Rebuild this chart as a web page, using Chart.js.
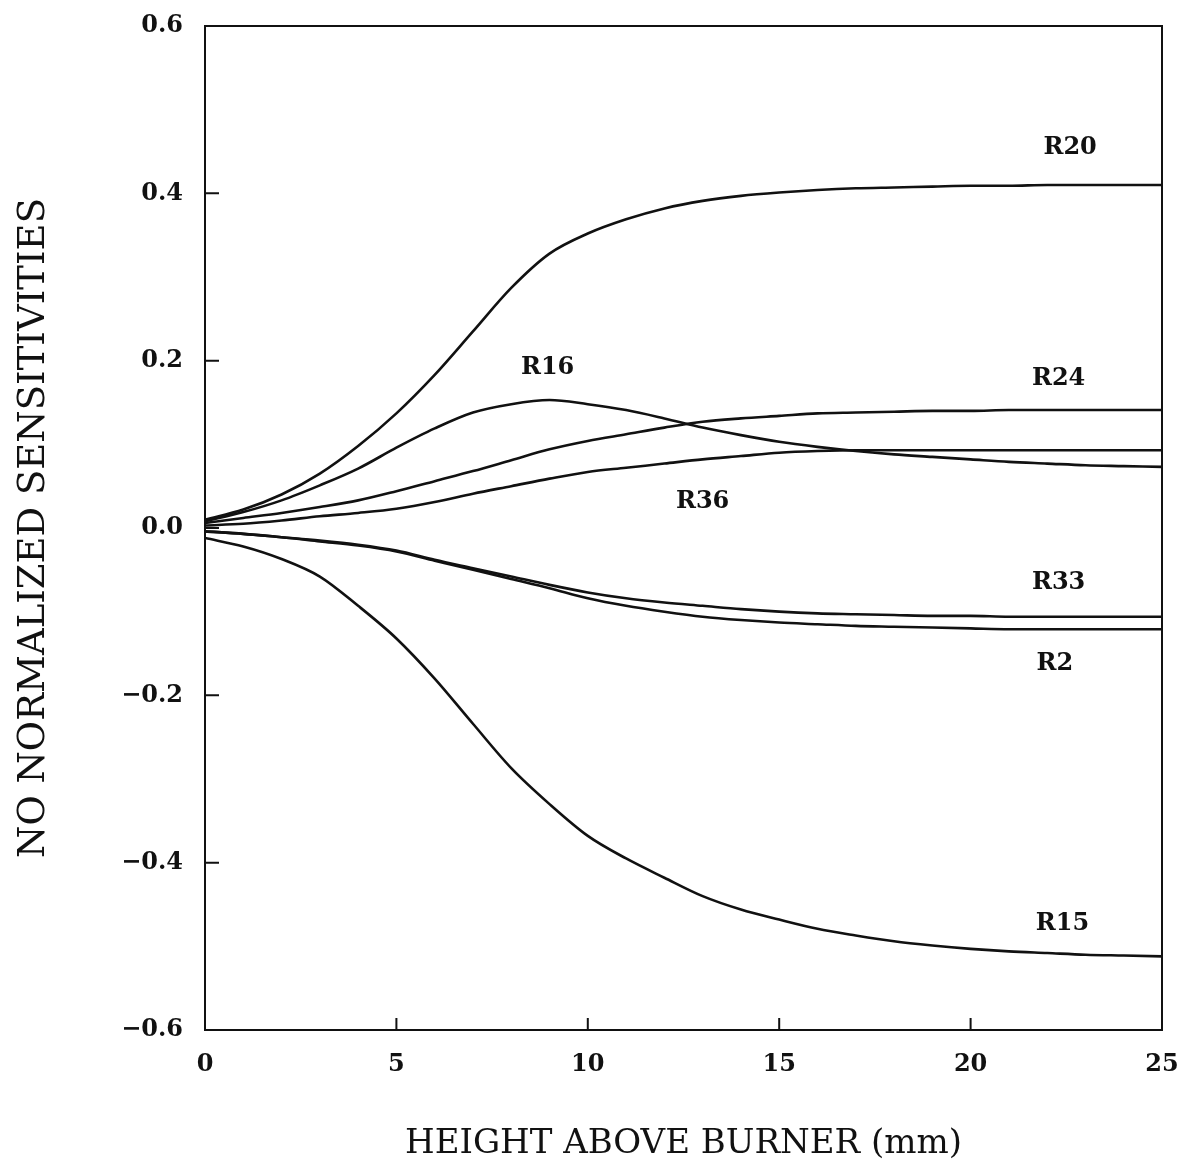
<!DOCTYPE html>
<html>
<head>
<meta charset="utf-8">
<title>NO normalized sensitivities</title>
<script src="https://cdn.jsdelivr.net/npm/chart.js@4.4.1/dist/chart.umd.min.js"></script>
<style>
  html, body { margin: 0; padding: 0; background: #fff; }
  #wrap { width: 1185px; height: 1175px; }
</style>
</head>
<body>
<div id="wrap"><canvas id="sens"></canvas></div>
<script>
// height above burner, mm
const heights = [0, 1, 2, 3, 4, 5, 6, 7, 8, 9, 10, 11, 12, 13, 14, 15, 16, 17, 18, 19, 20, 21, 22, 23, 24, 25];

// normalized NO sensitivity for each reaction
const r20 = [0.010, 0.022, 0.040, 0.065, 0.098, 0.137, 0.183, 0.235, 0.287, 0.328, 0.352, 0.369, 0.382, 0.391, 0.397, 0.401, 0.404, 0.406, 0.407, 0.408, 0.409, 0.409, 0.410, 0.410, 0.410, 0.410];
const r16 = [0.008, 0.019, 0.033, 0.051, 0.071, 0.096, 0.119, 0.138, 0.148, 0.153, 0.148, 0.141, 0.131, 0.120, 0.111, 0.103, 0.097, 0.092, 0.088, 0.085, 0.082, 0.079, 0.077, 0.075, 0.074, 0.073];
const r24 = [0.006, 0.012, 0.018, 0.025, 0.033, 0.044, 0.056, 0.068, 0.081, 0.094, 0.104, 0.112, 0.120, 0.127, 0.131, 0.134, 0.137, 0.138, 0.139, 0.140, 0.140, 0.141, 0.141, 0.141, 0.141, 0.141];
const r36 = [0.003, 0.005, 0.009, 0.014, 0.018, 0.023, 0.031, 0.041, 0.050, 0.059, 0.067, 0.072, 0.077, 0.082, 0.086, 0.090, 0.092, 0.093, 0.093, 0.093, 0.093, 0.093, 0.093, 0.093, 0.093, 0.093];
const r33 = [-0.004, -0.007, -0.011, -0.015, -0.020, -0.027, -0.038, -0.048, -0.058, -0.068, -0.077, -0.084, -0.089, -0.093, -0.097, -0.100, -0.102, -0.103, -0.104, -0.105, -0.105, -0.106, -0.106, -0.106, -0.106, -0.106];
const r2 = [-0.004, -0.007, -0.011, -0.016, -0.021, -0.028, -0.039, -0.050, -0.061, -0.072, -0.084, -0.093, -0.100, -0.106, -0.110, -0.113, -0.115, -0.117, -0.118, -0.119, -0.120, -0.121, -0.121, -0.121, -0.121, -0.121];
const r15 = [-0.012, -0.022, -0.037, -0.058, -0.093, -0.132, -0.180, -0.234, -0.287, -0.330, -0.368, -0.395, -0.418, -0.440, -0.456, -0.468, -0.479, -0.487, -0.494, -0.499, -0.503, -0.506, -0.508, -0.510, -0.511, -0.512];

const seriesNames = ['R20', 'R16', 'R24', 'R36', 'R33', 'R2', 'R15'];
const seriesValues = [r20, r16, r24, r36, r33, r2, r15];

const xTicks = [0, 5, 10, 15, 20, 25];
const yTicks = [-0.6, -0.4, -0.2, 0.0, 0.2, 0.4, 0.6];

// where each curve name sits, in data units
const curveLabels = [
    { text: 'R20', x: 22.6, y: 0.454 },
    { text: 'R16', x: 8.95, y: 0.192 },
    { text: 'R24', x: 22.3, y: 0.178 },
    { text: 'R36', x: 13.0, y: 0.031 },
    { text: 'R33', x: 22.3, y: -0.065 },
    { text: 'R2', x: 22.2, y: -0.162 },
    { text: 'R15', x: 22.4, y: -0.473 }
];

const INK = '#111';
const SERIF = '"DejaVu Serif", "Liberation Serif", serif';

// box around the plot plus short tick marks pointing inwards
const framePlugin = {
    id: 'frame',
    afterDatasetsDraw(chart) {
        const { ctx, chartArea: a, scales } = chart;
        ctx.save();
        ctx.strokeStyle = INK;
        ctx.lineWidth = 2;
        ctx.strokeRect(a.left, a.top, a.right - a.left, a.bottom - a.top);
        ctx.beginPath();
        yTicks.forEach(v => {
            const py = scales.y.getPixelForValue(v);
            ctx.moveTo(a.left, py);
            ctx.lineTo(a.left + 14, py);
        });
        xTicks.forEach(v => {
            const px = scales.x.getPixelForValue(v);
            ctx.moveTo(px, a.bottom);
            ctx.lineTo(px, a.bottom - 12);
        });
        ctx.stroke();

        ctx.fillStyle = INK;
        ctx.font = 'bold 24px ' + SERIF;
        ctx.textAlign = 'center';
        ctx.textBaseline = 'middle';
        curveLabels.forEach(l => {
            ctx.fillText(l.text, scales.x.getPixelForValue(l.x), scales.y.getPixelForValue(l.y));
        });
        ctx.restore();
    }
};

// fixed axis boxes, and no extra room for overhanging end labels
function fixBox(s, w, h) {
    if (w) s.width = w;
    if (h) s.height = h;
    s.paddingTop = 0;
    s.paddingBottom = 0;
    s.paddingLeft = 0;
    s.paddingRight = 0;
}

const datasets = seriesNames.map((name, i) => ({
    label: name,
    data: heights.map((h, j) => ({ x: h, y: seriesValues[i][j] })),
    borderColor: INK,
    borderWidth: 2.6,
    pointRadius: 0,
    fill: false,
    cubicInterpolationMode: 'monotone'
}));

new Chart(document.getElementById('sens'), {
    type: 'line',
    data: { datasets },
    options: {
        responsive: true,
        maintainAspectRatio: false,
        animation: false,
        layout: { padding: { top: 26, right: 23, bottom: 0, left: 0 } },
        plugins: {
            legend: { display: false },
            tooltip: { enabled: false }
        },
        scales: {
            x: {
                type: 'linear',
                min: 0,
                max: 25,
                afterFit: s => fixBox(s, 0, 145),
                afterBuildTicks: s => { s.ticks = xTicks.map(v => ({ value: v })); },
                grid: { display: false, drawTicks: false },
                border: { display: false },
                ticks: {
                    color: INK,
                    padding: 20,
                    font: { family: SERIF, size: 24, weight: 'bold' },
                    callback: v => String(v)
                },
                title: {
                    display: true,
                    text: 'HEIGHT ABOVE BURNER (mm)',
                    color: INK,
                    font: { family: SERIF, size: 34 },
                    padding: { top: 0, bottom: 10 }
                }
            },
            y: {
                type: 'linear',
                min: -0.6,
                max: 0.6,
                afterFit: s => fixBox(s, 205, 0),
                afterBuildTicks: s => { s.ticks = yTicks.map(v => ({ value: v })); },
                grid: { display: false, drawTicks: false },
                border: { display: false },
                ticks: {
                    color: INK,
                    padding: 22,
                    font: { family: SERIF, size: 24, weight: 'bold' },
                    callback: v => v.toFixed(1).replace('-', '\u2212')
                },
                title: {
                    display: true,
                    text: 'NO NORMALIZED SENSITIVITIES',
                    color: INK,
                    font: { family: SERIF, size: 37 },
                    padding: { top: 12, bottom: 0 }
                }
            }
        }
    },
    plugins: [framePlugin]
});
</script>
</body>
</html>
